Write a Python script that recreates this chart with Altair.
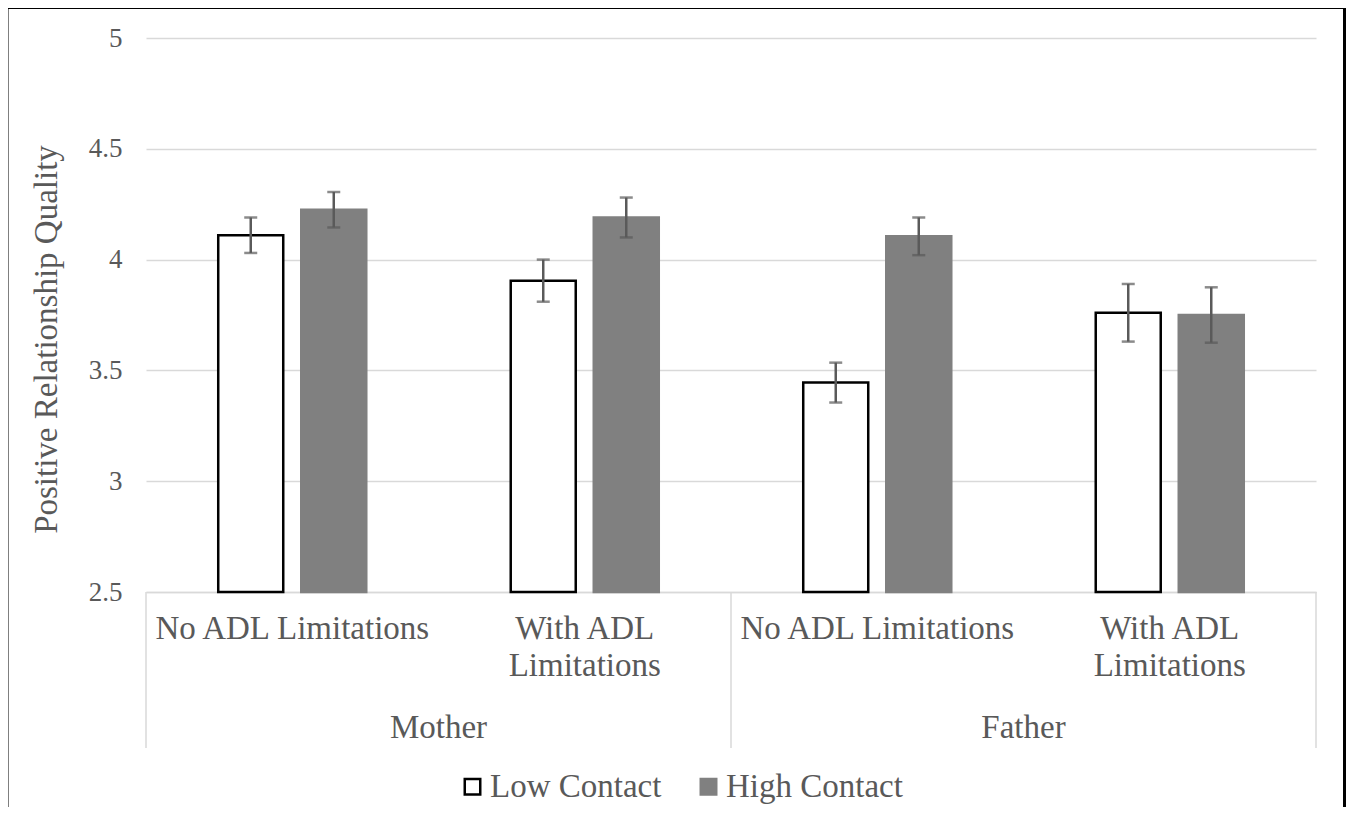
import altair as alt
import pandas as pd

parents = ["Mother", "Mother", "Father", "Father"]
conditions = ["No ADL Limitations", "With ADL|Limitations", "No ADL Limitations", "With ADL|Limitations"]
series = ["Low Contact", "High Contact"]
low_mean = [4.11, 3.905, 3.445, 3.76]
low_err = [0.08, 0.095, 0.09, 0.13]
high_mean = [4.225, 4.19, 4.105, 3.75]
high_err = [0.08, 0.09, 0.085, 0.125]
y_ticks = [2.5, 3, 3.5, 4, 4.5, 5]
group_names = ["Mother", "Father"]

keys = [f"{p}|{c}" for p, c in zip(parents, conditions)]
rows = []
for k, lm, le, hm, he in zip(keys, low_mean, low_err, high_mean, high_err):
    rows.append(dict(key=k, series=series[0], mean=lm, lo=lm - le, hi=lm + le))
    rows.append(dict(key=k, series=series[1], mean=hm, lo=hm - he, hi=hm + he))
df = pd.DataFrame(rows)

W, H = 1170, 554
FONT = "'Liberation Serif', 'Times New Roman', Times, 'DejaVu Serif', serif"
TXT = "#595959"
GRID = "#d9d9d9"
YTITLE = "Positive Relationship Quality"

x_axis = alt.Axis(
    labelExpr="slice(split(datum.value, '|'), 1)",
    labelFont=FONT, labelFontSize=33, labelColor=TXT, labelAngle=0,
    labelBaseline="top", labelLineHeight=37, labelPadding=20, labelLimit=320,
    labelOverlap=False, labelFlush=False,
    ticks=False, grid=False, domain=True, domainColor=GRID, domainWidth=1.5,
    title=None,
)


def xenc(bp=None):
    kw = {}
    if bp is not None:
        kw["bandPosition"] = bp
    return alt.X("key:N", sort=keys,
                 scale=alt.Scale(domain=keys, paddingInner=0, paddingOuter=0),
                 axis=x_axis, **kw)


xoff = alt.XOffset("series:N", sort=series,
                   scale=alt.Scale(domain=series, paddingInner=0.217, paddingOuter=0.87))

y_scale = alt.Scale(domain=[2.5, 5], zero=False, nice=False)
y_axis = alt.Axis(
    values=y_ticks, format=".1~f",
    labelFont=FONT, labelFontSize=27, labelColor=TXT, labelPadding=24,
    ticks=False, domain=False, grid=True, gridColor=GRID, gridWidth=1.5,
    titleFont=FONT, titleFontSize=33, titleColor=TXT, titleFontWeight="normal",
    titleAngle=-90, titleX=-90, titleY=301, titleAlign="center", titleBaseline="alphabetic",
)

legend = alt.Legend(
    title=None, orient="none", legendX=310, legendY=732, direction="horizontal",
    symbolType="square", symbolSize=240, symbolStrokeWidth=2.5,
    labelFont=FONT, labelFontSize=33, labelColor=TXT, labelOffset=1, labelLimit=400,
    columnPadding=30,
)

bars = alt.Chart(df).mark_bar(strokeWidth=2.5).encode(
    x=xenc(), xOffset=xoff,
    y=alt.Y("mean:Q", scale=y_scale, axis=y_axis, title=YTITLE),
    y2=alt.datum(2.5),
    fill=alt.Fill("series:N", sort=series, scale=alt.Scale(domain=series, range=["white", "#808080"]), legend=legend),
    stroke=alt.Stroke("series:N", sort=series, scale=alt.Scale(domain=series, range=["black", "#808080"]), legend=legend),
)

err = alt.Chart(df).mark_rule(color="#5a5a5a", strokeWidth=2.5).encode(
    x=xenc(), xOffset=xoff,
    y=alt.Y("lo:Q", scale=y_scale, title=YTITLE), y2="hi:Q",
)
cap_lo = alt.Chart(df).mark_tick(color="#5a5a5a", thickness=2.5, size=13).encode(
    x=xenc(), xOffset=xoff, y=alt.Y("lo:Q", scale=y_scale, title=YTITLE),
)
cap_hi = alt.Chart(df).mark_tick(color="#5a5a5a", thickness=2.5, size=13).encode(
    x=xenc(), xOffset=xoff, y=alt.Y("hi:Q", scale=y_scale, title=YTITLE),
)

div_start = alt.Chart(pd.DataFrame({"key": [keys[0], keys[2]]})).mark_rule(
    color=GRID, strokeWidth=1.5).encode(
    x=xenc(0), y=alt.value(H), y2=alt.value(H + 156))
div_end = alt.Chart(pd.DataFrame({"key": [keys[3]]})).mark_rule(
    color=GRID, strokeWidth=1.5).encode(
    x=xenc(1), y=alt.value(H), y2=alt.value(H + 156))

grp = alt.Chart(pd.DataFrame({"key": [keys[1], keys[3]], "label": group_names})).mark_text(
    font=FONT, fontSize=33, color=TXT, baseline="alphabetic", align="center").encode(
    x=xenc(0), y=alt.value(700), text="label:N")

frame_df = pd.DataFrame({"k": [0]})
frame_top = alt.Chart(frame_df).mark_rule(color="black", strokeWidth=3).encode(
    x=alt.value(-139), x2=alt.value(1198.5), y=alt.value(-30.5))
frame_left = alt.Chart(frame_df).mark_rule(color="black", strokeWidth=3).encode(
    x=alt.value(-139), y=alt.value(-32), y2=alt.value(900))
frame_right = alt.Chart(frame_df).mark_rule(color="black", strokeWidth=3).encode(
    x=alt.value(1198.5), y=alt.value(-32), y2=alt.value(900))

chart = alt.layer(
    bars, err, cap_lo, cap_hi, div_start, div_end, grp, frame_top, frame_left, frame_right
).properties(
    width=W, height=H,
    padding={"left": 138, "top": 30, "right": 30, "bottom": 215},
    autosize=alt.AutoSizeParams(type="none"),
    background="white",
).configure_view(stroke=None)

chart.save("out.html", embed_options={"renderer": "svg", "actions": False})
